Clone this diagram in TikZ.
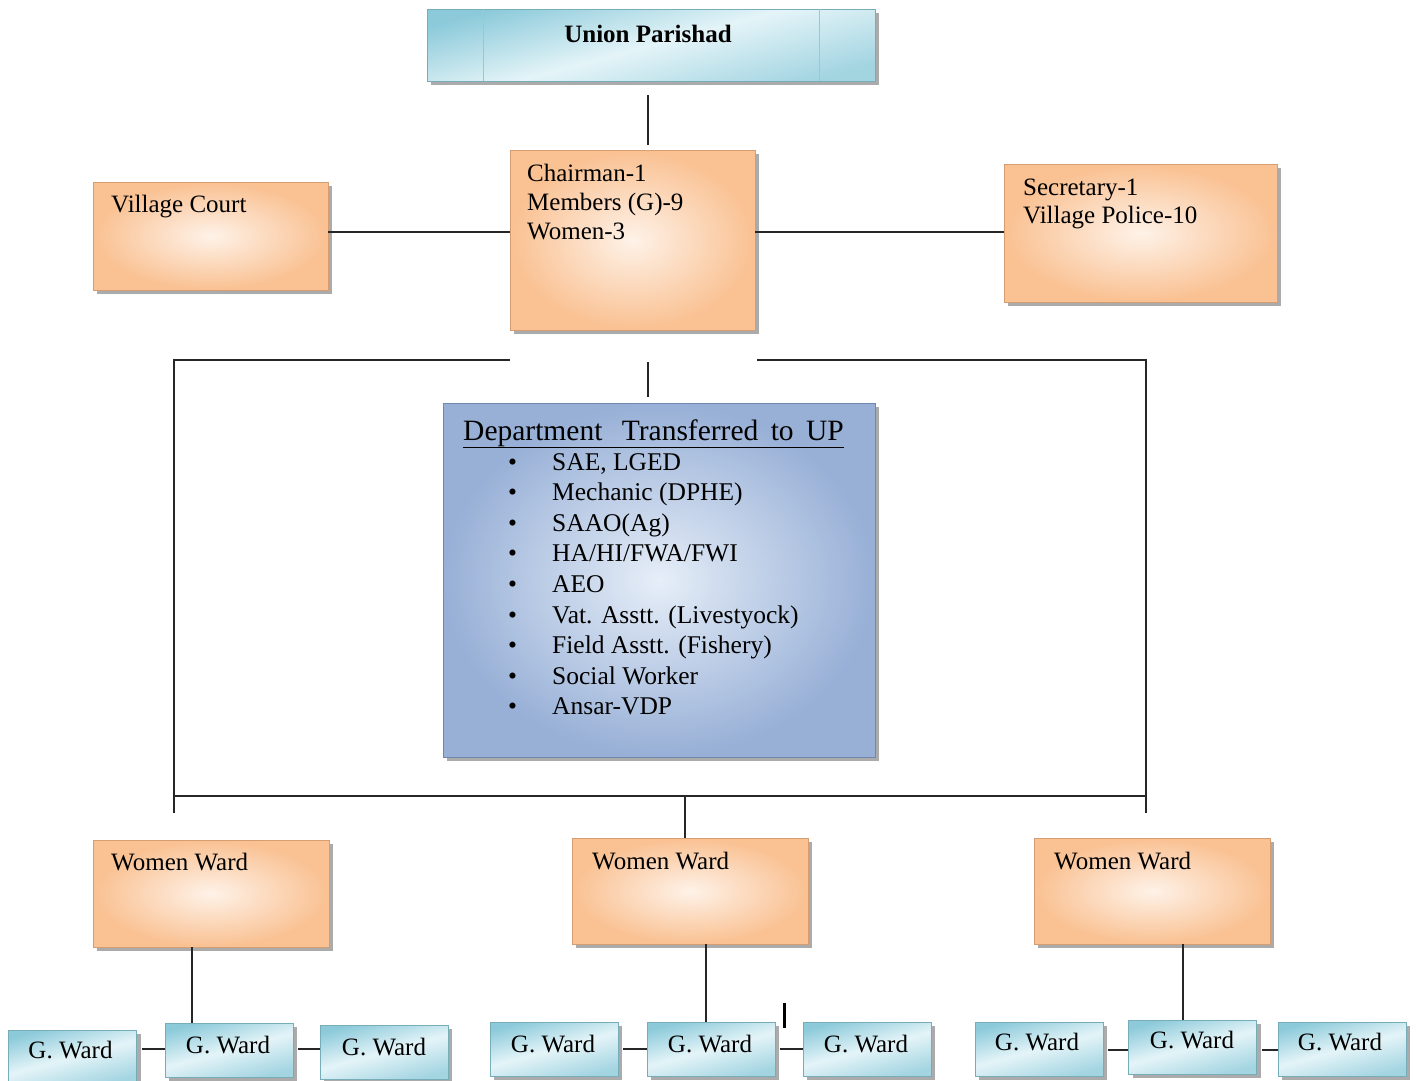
\documentclass[tikz,border=0pt]{standalone}
\usepackage{fontspec}
\setmainfont{Liberation Serif}
\usetikzlibrary{shadows,calc}
\definecolor{orE}{RGB}{249,186,134}
\definecolor{orL}{RGB}{254,242,232}
\definecolor{cyE}{RGB}{140,202,218}
\definecolor{cyL}{RGB}{228,244,248}
\definecolor{blE}{RGB}{132,160,206}
\definecolor{blL}{RGB}{230,238,248}
\definecolor{upline}{RGB}{150,200,214}
\tikzset{
  shad/.style={drop shadow={shadow xshift=4pt,shadow yshift=-4pt,fill=black!55,opacity=0.6}},
  orbox/.style={shad,rectangle,inner sep=0pt,draw=orE!85!black,line width=0.6pt,
     inner color=orL,outer color=orE!88!orL},
  cybox/.style={shad,rectangle,inner sep=0pt,draw=cyE!85!black,line width=0.6pt,
     top color=cyE,bottom color=cyE!80,middle color=cyL,shading angle=15},
  blbox/.style={shad,rectangle,inner sep=0pt,draw=blE!85!black,line width=0.6pt,
     inner color=blL,outer color=blE!80!blL},
  txt/.style={inner sep=0pt,font=\fontsize{25}{29}\selectfont},
  conn/.style={draw=black!85,line width=1.7pt},
}
\newcommand\bul{\makebox[44pt][l]{\textbullet}}
\begin{document}
\begin{tikzpicture}[x=1pt,y=-1pt]
\useasboundingbox[fill=white] (0,0) rectangle (1418,1080);
% boxes
\node[cybox,minimum width=448pt,minimum height=72pt] (up) at (651,45) {};
\draw[upline,line width=1pt] (483,9) -- (483,81) (819,9) -- (819,81);
\node[orbox,minimum width=245pt,minimum height=180pt] (ch) at (632.5,240) {};
\node[orbox,minimum width=235pt,minimum height=108pt] (vc) at (210.5,236) {};
\node[orbox,minimum width=273pt,minimum height=138pt] (sec) at (1140.5,233) {};
\node[blbox,minimum width=432pt,minimum height=354pt] (dep) at (659,580) {};
\node[orbox,minimum width=236pt,minimum height=107pt] (ww1) at (211,893.5) {};
\node[orbox,minimum width=236pt,minimum height=106pt] (ww2) at (690,891) {};
\node[orbox,minimum width=236pt,minimum height=106pt] (ww3) at (1152,891) {};
\foreach \n/\x/\y in {g11/72.5/1057,g12/229/1050,g13/384/1052,
                      g21/554/1049,g22/711/1049,g23/867/1049,
                      g31/1039/1049,g32/1192.5/1047,g33/1342/1049}
  \node[cybox,minimum width=128pt,minimum height=54pt] (\n) at (\x,\y) {};
% texts
\node[txt,font=\fontsize{25}{29}\selectfont\bfseries,anchor=base] (tup) at (648,42) {Union Parishad};
\node[txt,anchor=base west] (tch1) at (527,181) {Chairman-1};
\node[txt,anchor=base west] (tch2) at (527,210) {Members (G)-9};
\node[txt,anchor=base west] (tch3) at (527,239) {Women-3};
\node[txt,anchor=base west] (tvc) at (111,212) {Village Court};
\node[txt,anchor=base west] (tsec1) at (1023,195) {Secretary-1};
\node[txt,anchor=base west] (tsec2) at (1023,223) {Village Police-10};
\node[txt,anchor=base west] (tww1) at (111,870) {Women Ward};
\node[txt,anchor=base west] (tww2) at (592,869) {Women Ward};
\node[txt,anchor=base west] (tww3) at (1054,869) {Women Ward};
\foreach \n/\x/\y in {g11/70.5/1058,g12/228/1053,g13/384/1055,
                      g21/553/1052,g22/710/1052,g23/866/1052,
                      g31/1037/1050,g32/1192/1048,g33/1340/1050}
  \node[txt,anchor=base] (t\n) at (\x,\y) {G. Ward};
\node[txt,font=\fontsize{29.5}{32}\selectfont,anchor=base west] (thead) at (463,440)
  {\underline{Department\hspace{12pt} Transferred\hspace{5pt} to\hspace{5pt} UP}};
\foreach \t [count=\i] in {{SAE, LGED},{Mechanic (DPHE)},{SAAO(Ag)},{HA/HI/FWA/FWI},{AEO},
   {Vat. Asstt. (Livestyock)},{Field Asstt. (Fishery)},{Social Worker},{Ansar-VDP}}
  \node[txt,font=\fontsize{25.5}{30}\selectfont,anchor=base west] (it\i) at (508,{470+30.6*(\i-1)}) {\bul\t};
% connectors
\draw[conn,shorten <=14pt,shorten >=5pt] ([xshift=-3pt]up.south) -- ([xshift=-3pt]up.south |- ch.north);
\coordinate (hy) at (0,232);
\draw[conn] (ch.west |- hy) -- (vc.east |- hy);
\draw[conn] (ch.east |- hy) -- (sec.west |- hy);
\coordinate (bl) at (174,360);
\coordinate (br) at (1146,360);
\coordinate (bly) at (174,796);
\coordinate (bry) at (1146,796);
\draw[conn] (ch.south west |- bl) -- (bl) -- ([yshift=-17pt]bly);
\draw[conn] ([xshift=2pt]ch.south east |- br) -- (br) -- ([yshift=-17pt]bry);
\draw[conn] (bly) -- (bry);
\draw[conn,shorten <=32pt,shorten >=6pt] ([xshift=15.5pt]ch.south) -- ([xshift=15.5pt]ch.south |- dep.north);
\draw[conn] (685,796) -- (ww2.north -| 685,0);
\draw[conn] (ww1.south -| 192,0) -- (g12.north -| 192,0);
\draw[conn] (ww2.south -| 706,0) -- (g22.north -| 706,0);
\draw[conn] (ww3.south -| 1183,0) -- (g32.north -| 1183,0);
\foreach \a/\b/\y in {g11/g12/1049,g12/g13/1049,g21/g22/1049,g22/g23/1049,g31/g32/1050,g32/g33/1050}
  \draw[conn] ([xshift=5pt]\a.east |- 0,\y) -- (\b.west |- 0,\y);
\draw[black,line width=3pt] (784,1003) -- (784,1028);
\end{tikzpicture}
\end{document}
